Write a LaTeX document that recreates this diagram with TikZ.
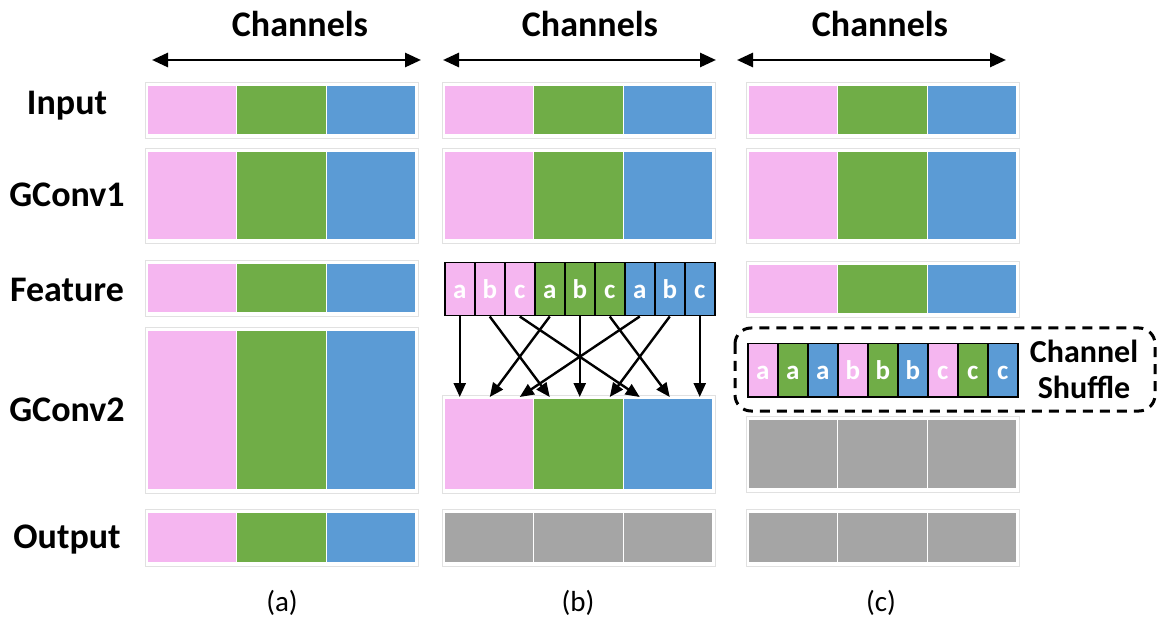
\documentclass[tikz,border=0pt]{standalone}
\usepackage{fontspec}
\setmainfont{Carlito}
\usetikzlibrary{arrows.meta, positioning, calc}
\definecolor{grpPink}{RGB}{245,182,240}
\definecolor{grpGreen}{RGB}{112,173,71}
\definecolor{grpBlue}{RGB}{91,155,213}
\definecolor{outGray}{RGB}{165,165,165}
\definecolor{frameGray}{RGB}{225,225,225}

\tikzset{
  blk/.style={draw=white, line width=1.5pt, anchor=north west, minimum width=89.7pt, inner sep=0pt, outer sep=0pt},
  rowframe/.style={draw=frameGray, line width=0.8pt},
  fcell/.style={draw=black, line width=1.5pt, anchor=north west, minimum width=30pt, minimum height=53pt, inner sep=0pt, text height=18pt, text depth=0pt, text=white, font=\fontsize{27}{29}\selectfont\bfseries},
  rowlbl/.style={font=\fontsize{36}{40}\selectfont\bfseries},
  chanlbl/.style={font=\fontsize{36}{40}\selectfont\bfseries},
  caplbl/.style={font=\fontsize{29}{31}\selectfont},
  chanarrow/.style={{Triangle[length=16pt,width=14pt]}-{Triangle[length=16pt,width=14pt]}, line width=2.8pt},
  mixarrow/.style={-{Triangle[length=14pt,width=12pt]}, line width=2.4pt},
  shufbox/.style={draw=black, line width=3pt, dash pattern=on 10pt off 7pt, rounded corners=16pt}
}

% one row of three group blocks: name, left x, top y, height, colours
\newcommand{\grprow}[7]{%
  \draw[rowframe] (#2-2,#3-2.5) rectangle (#2+271,#3+#4+3);
  \foreach \k/\col in {1/#5,2/#6,3/#7}
    \node[blk, fill=\col, minimum height=#4pt] (#1-\k) at (#2+89.7*\k-89.7,#3) {};
}

\begin{document}
\begin{tikzpicture}[x=1pt, y=-1pt]
  \useasboundingbox (0,0) rectangle (1165,628);

  % column headers
  \foreach \c/\xc/\xl/\xr in {A/300/152/421, B/590/443/716, C/880/737/1006} {
    \node[chanlbl] (chan\c) at (\xc,24) {Channels};
    \coordinate (chan\c-l) at (\xl,60);
    \coordinate (chan\c-r) at (\xr,60);
    \draw[chanarrow] (chan\c-l) -- (chan\c-r);
  }

  % row labels
  \node[rowlbl] (lblIn) at (67,106) {Input};
  \node[rowlbl] (lblG1) at (67,195) {GConv1};
  \node[rowlbl] (lblFeat) at (67,290) {Feature};
  \node[rowlbl] (lblG2) at (67,410) {GConv2};
  \node[rowlbl] (lblOut) at (67,540) {Output};

  % (a)
  \grprow{ain}{147}{85}{50}{grpPink}{grpGreen}{grpBlue}
  \grprow{ag1}{147}{151}{89}{grpPink}{grpGreen}{grpBlue}
  \grprow{afe}{147}{263}{50}{grpPink}{grpGreen}{grpBlue}
  \grprow{ag2}{147}{330}{160}{grpPink}{grpGreen}{grpBlue}
  \grprow{aout}{147}{512}{51}{grpPink}{grpGreen}{grpBlue}

  % (b)
  \grprow{bin}{444}{85}{50}{grpPink}{grpGreen}{grpBlue}
  \grprow{bg1}{444}{151}{89}{grpPink}{grpGreen}{grpBlue}
  \grprow{bg2}{444}{398}{92}{grpPink}{grpGreen}{grpBlue}
  \grprow{bout}{444}{512}{51}{outGray}{outGray}{outGray}
  \foreach \i/\col/\ch in {1/grpPink/a,2/grpPink/b,3/grpPink/c,4/grpGreen/a,5/grpGreen/b,6/grpGreen/c,7/grpBlue/a,8/grpBlue/b,9/grpBlue/c}
    \node[fcell, fill=\col] (bfe-\i) at (444+30*\i-30,262) {\ch};
  \foreach \i in {1,...,9}
    \coordinate (tgt-\i) at (bfe-\i.south |- bg2-1.north);
  \foreach \g in {0,1,2}
    \foreach \s in {0,1,2} {
      \pgfmathtruncatemacro{\src}{3*\g+\s+1}
      \pgfmathtruncatemacro{\dst}{3*\s+\g+1}
      \draw[mixarrow] (bfe-\src.south) -- ($(tgt-\dst)+(0,-1)$);
    }

  % (c)
  \grprow{cin}{748}{85}{50}{grpPink}{grpGreen}{grpBlue}
  \grprow{cg1}{748}{151}{89}{grpPink}{grpGreen}{grpBlue}
  \grprow{cfe}{748}{264}{50}{grpPink}{grpGreen}{grpBlue}
  \grprow{cg2}{748}{419}{70}{outGray}{outGray}{outGray}
  \grprow{cout}{748}{512}{51}{outGray}{outGray}{outGray}
  \draw[shufbox] (735,328) rectangle (1155,411);
  \foreach \i/\col/\ch in {1/grpPink/a,2/grpGreen/a,3/grpBlue/a,4/grpPink/b,5/grpGreen/b,6/grpBlue/b,7/grpPink/c,8/grpGreen/c,9/grpBlue/c}
    \node[fcell, fill=\col] (csh-\i) at (747+30*\i-30,343) {\ch};
  \node[chanlbl, font=\fontsize{32}{36}\selectfont\bfseries, align=center] (shufLbl) at (1084,369) {Channel\\Shuffle};

  % captions
  \node[caplbl] (capA) at (282,603) {(a)};
  \node[caplbl] (capB) at (578,603) {(b)};
  \node[caplbl] (capC) at (881,603) {(c)};
\end{tikzpicture}
\end{document}
